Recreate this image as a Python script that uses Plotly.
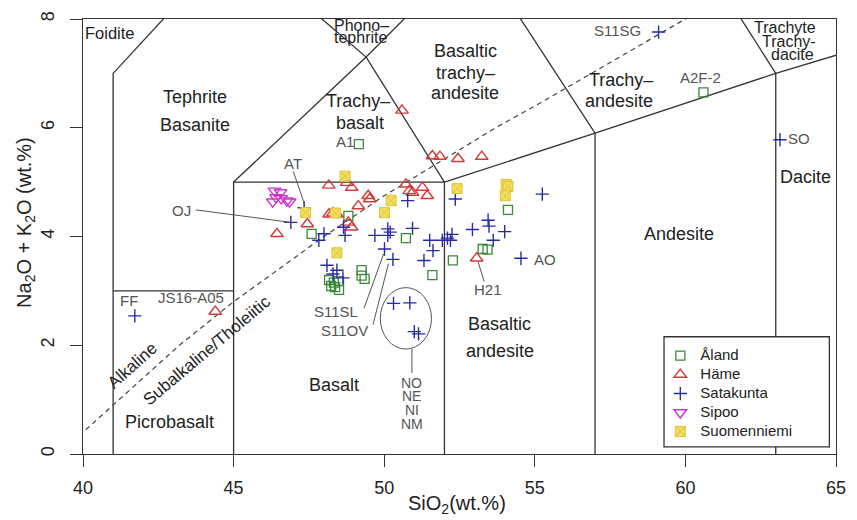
import plotly.graph_objects as go

FONT = "Liberation Sans, Arial, sans-serif"
INK = "#222222"
GREY = "#555555"
EDGE = "#333333"

# ---- sample compositions: SiO2 (wt.%) and Na2O+K2O (wt.%) ----
aland_sio2 = [49.16, 60.60, 47.59, 48.17, 48.33, 48.50, 48.24, 48.50, 48.37,
              49.25, 49.25, 49.35, 51.60, 50.72, 48.81, 54.11, 53.27, 53.43, 52.28]
aland_alk = [5.70, 6.65, 4.05, 3.20, 3.15, 3.18, 3.09, 3.02, 3.07,
             3.38, 3.28, 3.22, 3.29, 3.97, 4.38, 4.49, 3.77, 3.76, 3.56]

hame_sio2 = [50.59, 51.60, 51.85, 52.45, 53.24, 44.39, 46.44, 47.45, 48.16, 48.76,
             48.92, 49.47, 49.52, 49.14, 50.72, 50.94, 51.27, 51.43, 50.83,
             48.17, 48.30, 48.43, 48.92, 48.81, 53.07]
hame_alk = [6.32, 5.48, 5.47, 5.43, 5.47, 2.62, 4.05, 4.23, 4.94, 4.99,
            4.90, 4.75, 4.69, 4.56, 4.96, 4.81, 4.90, 4.75, 4.84,
            4.41, 4.43, 4.41, 4.17, 4.26, 3.60]

satakunta_sio2 = [59.11, 63.14, 41.72, 46.90, 47.34, 47.83, 48.00, 48.65, 48.70,
                  49.69, 50.12, 50.12, 50.20, 50.01, 50.29, 50.78, 50.94, 51.51,
                  51.62, 51.32, 51.93, 52.10, 52.25, 52.20, 52.36, 52.93, 53.45,
                  53.48, 54.00, 53.62, 55.25, 54.54, 48.10, 48.43, 48.63, 48.30,
                  50.31, 50.85, 51.00, 51.14]
satakunta_alk = [7.76, 5.78, 2.54, 4.26, 4.53, 3.93, 4.05, 4.17, 4.02,
                 4.02, 4.14, 4.02, 4.08, 3.77, 3.58, 4.66, 4.15, 3.93,
                 3.74, 3.56, 3.93, 3.97, 4.04, 3.93, 4.69, 4.13, 4.30,
                 4.19, 4.09, 3.93, 4.78, 3.60, 3.47, 3.38, 3.24, 3.31,
                 2.77, 2.78, 2.25, 2.21]

sipoo_sio2 = [46.36, 46.56, 46.41, 46.58, 46.77, 46.86, 46.30]
sipoo_alk = [4.84, 4.81, 4.72, 4.70, 4.66, 4.64, 4.64]

suomenniemi_sio2 = [47.39, 48.70, 48.38, 50.23, 50.01, 48.43, 52.42, 54.05, 54.11, 54.02]
suomenniemi_alk = [4.44, 5.11, 4.43, 4.66, 4.44, 3.70, 4.88, 4.96, 4.92, 4.75]

# ---- TAS field boundaries (Le Bas et al., 1986) ----
tas_x = [[41, 41, 45, 48.4],
         [41, 45],
         [45, 45, 49.4, 53, 57.6],
         [45, 52, 57, 63, 69],
         [52, 52, 49.4, 45],
         [57, 57, 53, 48.4],
         [63, 63, 57.6]]
tas_y = [[0, 7, 9.4, 11.5],
         [3, 3],
         [0, 5, 7.3, 9.3, 11.7],
         [5, 5, 5.9, 7, 8],
         [0, 5, 7.3, 9.4],
         [0, 5.9, 9.3, 11.5],
         [0, 7, 11.7]]

# Alkaline / subalkaline divide (Irvine & Baragar, 1971)
ib_x = [39.2, 40, 43.2, 45, 48, 50, 53.7, 55, 60, 65, 77.4]
ib_y = [0, 0.4, 2, 2.8, 4, 4.75, 6, 6.4, 8, 8.8, 10]

# ---- field names ----
field_text = ["Foidite", "Tephrite", "Basanite", "Phono–", "tephrite",
              "Basaltic", "trachy–", "andesite", "Trachy–", "basalt",
              "Trachy–", "andesite", "Trachyte", "Trachy-", "dacite",
              "Andesite", "Dacite", "Basaltic", "andesite", "Basalt", "Picrobasalt"]
field_x = [40.90, 43.72, 43.72, 49.26, 49.20,
           52.69, 52.69, 52.69, 49.14, 49.19,
           57.87, 57.80, 63.30, 63.43, 63.56,
           59.78, 64.00, 53.83, 53.83, 48.32, 42.86]
field_y = [7.75, 6.56, 6.05, 7.88, 7.66,
           7.41, 7.01, 6.63, 6.50, 6.09,
           6.87, 6.49, 7.84, 7.58, 7.35,
           4.05, 5.09, 2.40, 1.89, 1.26, 0.59]
field_size = [16.5, 18, 18, 16, 16,
              18, 18, 18, 18, 18,
              18, 18, 16, 16, 16,
              18, 18, 18, 18, 18, 18]

# ---- sample name tags and their leader lines ----
tag_text = ["A1", "A2F-2", "S11SG", "SO", "FF", "JS16-A05", "OJ", "AT",
            "S11SL", "S11OV", "H21", "AO", "NO", "NE", "NI", "NM"]
tag_x = [48.70, 60.50, 57.76, 63.76, 41.52, 43.59, 43.26, 46.96,
         48.40, 48.69, 53.45, 55.34, 50.92, 50.92, 50.92, 50.92]
tag_y = [5.74, 6.93, 7.78, 5.80, 2.83, 2.87, 4.48, 5.34,
         2.62, 2.27, 3.02, 3.58, 1.31, 1.06, 0.81, 0.55]
tag_size = [15, 15, 15, 15, 15, 15, 15, 15,
            15, 15, 15, 15, 14, 14, 14, 14]

leader_x0 = [43.74, 46.98, 49.33, 49.63, 53.32, 50.92]
leader_y0 = [4.49, 5.20, 2.68, 2.38, 3.17, 1.93]
leader_x1 = [46.90, 47.37, 49.98, 50.14, 53.12, 50.92]
leader_y1 = [4.26, 4.57, 3.68, 3.50, 3.53, 1.49]

# grouped samples (NO, NE, NI, NM)
ring_x = [49.87, 51.57]
ring_y = [1.93, 3.06]

fig = go.Figure()

# field boundaries
bx, by = [], []
for xs, ys in zip(tas_x, tas_y):
    bx += xs + [None]
    by += ys + [None]
fig.add_trace(go.Scatter(x=bx, y=by, mode="lines", showlegend=False, hoverinfo="skip",
                         line=dict(color=EDGE, width=1.3)))
fig.add_trace(go.Scatter(x=ib_x, y=ib_y, mode="lines", showlegend=False, hoverinfo="skip",
                         line=dict(color="#444444", width=1.2, dash="5px,4px")))


def legend_name(s):
    return f"<span style='font-size:15px'>{s}</span>"


fig.add_trace(go.Scatter(x=aland_sio2, y=aland_alk, mode="markers", name=legend_name("Åland"),
                         marker=dict(symbol="square-open", size=9, color="#3a8a3a",
                                     line=dict(width=1.3, color="#3a8a3a"))))
fig.add_trace(go.Scatter(x=hame_sio2, y=hame_alk, mode="markers", name=legend_name("Häme"),
                         marker=dict(symbol="triangle-up-open", size=11, color="#d23a3a",
                                     line=dict(width=1.4, color="#d23a3a"))))
fig.add_trace(go.Scatter(x=satakunta_sio2, y=satakunta_alk, mode="markers", name=legend_name("Satakunta"),
                         marker=dict(symbol="cross-thin-open", size=9.5, color="#2a2aa8",
                                     line=dict(width=1.4, color="#2a2aa8"))))
fig.add_trace(go.Scatter(x=sipoo_sio2, y=sipoo_alk, mode="markers", name=legend_name("Sipoo"),
                         marker=dict(symbol="triangle-down-open", size=11, color="#cc33cc",
                                     line=dict(width=1.4, color="#cc33cc"))))
fig.add_trace(go.Scatter(x=suomenniemi_sio2, y=suomenniemi_alk, mode="markers", name=legend_name("Suomenniemi"),
                         marker=dict(symbol="square-x", size=10, color="#f4df62",
                                     line=dict(width=1, color="#dcc23a"))))

shapes = []
for x0, y0, x1, y1 in zip(leader_x0, leader_y0, leader_x1, leader_y1):
    shapes.append(dict(type="line", xref="x", yref="y", x0=x0, y0=y0, x1=x1, y1=y1,
                       line=dict(color=GREY, width=1)))
shapes.append(dict(type="circle", xref="x", yref="y", x0=ring_x[0], x1=ring_x[1],
                   y0=ring_y[0], y1=ring_y[1], line=dict(color=GREY, width=1)))
# legend frame
shapes.append(dict(type="rect", xref="paper", yref="paper", x0=0.7716, x1=0.9912,
                   y0=0.0166, y1=0.2695, fillcolor="white", layer="above",
                   line=dict(color=EDGE, width=1.3)))

annotations = []
for t, x, y, s in zip(field_text, field_x, field_y, field_size):
    annotations.append(dict(x=x, y=y, xref="x", yref="y", text=t, showarrow=False,
                            font=dict(size=s, color=INK, family=FONT)))
for t, x, y, s in zip(tag_text, tag_x, tag_y, tag_size):
    annotations.append(dict(x=x, y=y, xref="x", yref="y", text=t, showarrow=False,
                            font=dict(size=s, color=GREY, family=FONT)))
annotations.append(dict(x=41.65, y=1.62, xref="x", yref="y", text="Alkaline", showarrow=False,
                        textangle=-42, font=dict(size=17, color=INK, family=FONT)))
annotations.append(dict(x=44.12, y=1.90, xref="x", yref="y", text="Subalkaline/Tholeiitic",
                        showarrow=False, textangle=-40, font=dict(size=17, color=INK, family=FONT)))
# axis titles
annotations.append(dict(x=(462 - 83) / 763, y=(454 - 505) / 439, xref="paper", yref="paper",
                        xanchor="center", yanchor="middle",
                        text="SiO<sub>2</sub>(wt.%)", showarrow=False,
                        font=dict(size=20, color=INK, family=FONT)))
annotations.append(dict(x=(24 - 83) / 763, y=(454 - 220) / 439, xref="paper", yref="paper",
                        xanchor="center", yanchor="middle",
                        text="Na<sub>2</sub>O + K<sub>2</sub>O (wt.%)", showarrow=False, textangle=-90,
                        font=dict(size=20, color=INK, family=FONT)))

fig.update_layout(
    width=857, height=520,
    margin=dict(l=83, r=11, t=15, b=66),
    paper_bgcolor="white", plot_bgcolor="white",
    font=dict(family=FONT, color=INK),
    shapes=shapes, annotations=annotations,
    legend=dict(x=(668 - 83) / 763, y=(454 - 340) / 439, xanchor="left", yanchor="top",
                bgcolor="rgba(0,0,0,0)", borderwidth=0,
                font=dict(size=12, family=FONT, color=INK)),
)
axis_common = dict(ticks="outside", ticklen=12, tickwidth=1.3, tickcolor=EDGE,
                   showline=True, linecolor=EDGE, linewidth=1.3, mirror=True,
                   showgrid=False, zeroline=False, tickfont=dict(size=18, color=INK, family=FONT))
fig.update_xaxes(range=[40, 65], tickvals=[40, 45, 50, 55, 60, 65], ticklabelstandoff=5, **axis_common)
fig.update_yaxes(range=[0, 8], tickvals=[0, 2, 4, 6, 8], tickangle=-90, ticklabelstandoff=9,
                 **axis_common)

fig.write_html("out.html")
